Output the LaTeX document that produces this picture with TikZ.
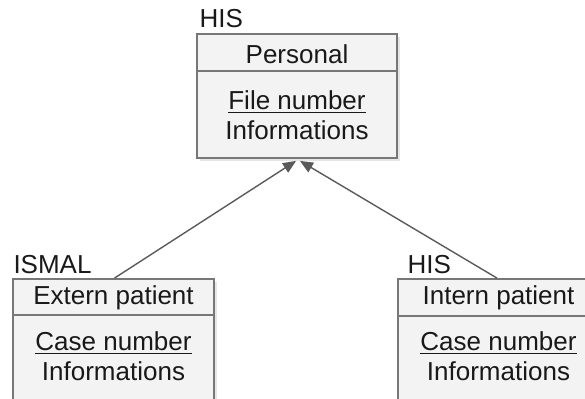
\documentclass[tikz,border=0pt]{standalone}
\usepackage{fontspec}
\setmainfont{Liberation Sans}
\usetikzlibrary{arrows.meta,shadows}

\definecolor{boxgray}{HTML}{777777}
\definecolor{boxfill}{HTML}{F3F3F3}
\definecolor{linkgray}{HTML}{5A5A5A}

\tikzset{
  classbox/.style={draw=boxgray, fill=boxfill, line width=0.9pt, inner sep=0pt,
    drop shadow={shadow xshift=1.5pt, shadow yshift=-1.5pt, opacity=0.2}},
  classtext/.style={font=\fontsize{13}{15}\selectfont, text=black!90, align=center, inner sep=0pt},
  systag/.style={font=\fontsize{13}{15}\selectfont, text=black!90, anchor=south west, inner xsep=0pt, inner ysep=2.5pt},
  inherit/.style={draw=linkgray, line width=0.7pt, -{Triangle[length=6.5pt,width=5.5pt]}}
}

\begin{document}
\begin{tikzpicture}[x=0.5pt, y=-0.5pt]
  \useasboundingbox (0,0) rectangle (585,398);
  \clip (0,0) rectangle (585,398);

  % boxes
  \node[classbox, minimum width=100pt, minimum height=62pt] (personal) at (297,96) {};
  \node[classbox, minimum width=100.5pt, minimum height=70pt] (extern) at (113.5,349) {};
  \node[classbox, minimum width=101pt, minimum height=70pt] (intern) at (499,349) {};

  % header lines
  \draw[boxgray, line width=0.9pt] ([yshift=-19pt]personal.north west) -- ([yshift=-19pt]personal.north east);
  \draw[boxgray, line width=0.9pt] ([yshift=-18.5pt]extern.north west) -- ([yshift=-18.5pt]extern.north east);
  \draw[boxgray, line width=0.9pt] ([yshift=-19pt]intern.north west) -- ([yshift=-19pt]intern.north east);

  % texts
  \node[classtext] (personalname) at (297,54) {Personal};
  \node[classtext] (personalattr) at (297,115) {\underline{File number}\\Informations};
  \node[classtext] (externname) at (113.5,298) {Extern patient};
  \node[classtext] (externattr) at (113.5,356) {\underline{Case number}\\Informations};
  \node[classtext] (internname) at (498.5,298) {Intern patient};
  \node[classtext] (internattr) at (498.5,356) {\underline{Case number}\\Informations};

  % system tags
  \node[systag, xshift=1.5pt] (histop) at (personal.north west) {HIS};
  \node[systag, xshift=0.5pt, inner ysep=2pt] (ismal) at (extern.north west) {ISMAL};
  \node[systag, xshift=5pt, inner ysep=2pt] (hisright) at (intern.north west) {HIS};

  % generalisation
  \draw[inherit] ([xshift=0.5pt]extern.north) -- ([xshift=-0.5pt,yshift=-1pt]personal.south);
  \draw[inherit] ([xshift=-1pt]intern.north) -- ([xshift=1.5pt,yshift=-1pt]personal.south);
\end{tikzpicture}
\end{document}
